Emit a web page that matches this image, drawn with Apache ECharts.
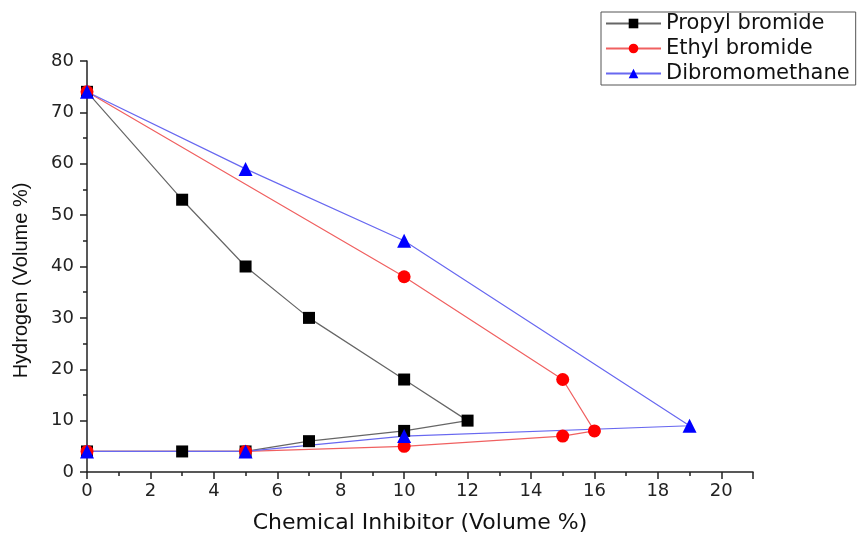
<!DOCTYPE html>
<html>
<head>
<meta charset="utf-8">
<script src="https://cdn.jsdelivr.net/npm/echarts@6/dist/echarts.min.js"></script>
<style>
  html, body { margin: 0; padding: 0; background: #fff; }
  #chart { width: 859px; height: 533px; }
</style>
</head>
<body>
<div id="chart"></div>
<script>
// inhibitor volume % (x) against hydrogen volume % (y), in the order the curves are traced
const propylX = [0, 3, 5, 7, 10, 12, 10, 7, 5, 3, 0];
const propylY = [74, 53, 40, 30, 18, 10, 8, 6, 4, 4, 4];
const ethylX = [0, 10, 15, 16, 15, 10, 5, 0];
const ethylY = [74, 38, 18, 8, 7, 5, 4, 4];
const dibromoX = [0, 5, 10, 19, 10, 5, 0];
const dibromoY = [74, 59, 45, 9, 7, 4, 4];

const pairs = (xs, ys) => xs.map((x, i) => [x, ys[i]]);

const font = 'DejaVu Sans';
const axisColor = '#222';

const chart = echarts.init(document.getElementById('chart'));

chart.setOption({
    animation: false,
    backgroundColor: '#fff',
    grid: { left: 87, right: 106, top: 61, bottom: 61, outerBoundsMode: 'none', containLabel: false },
    legend: {
        orient: 'vertical',
        left: 601,
        top: 12,
        padding: [1, 6, 1, 4],
        itemWidth: 55,
        itemHeight: 12,
        itemGap: 4,
        borderColor: '#555',
        borderWidth: 1,
        textStyle: { fontFamily: font, fontSize: 21, color: '#111', lineHeight: 20 },
        data: ['Propyl bromide', 'Ethyl bromide', 'Dibromomethane']
    },
    xAxis: {
        type: 'value',
        min: 0,
        max: 21,
        interval: 2,
        name: 'Chemical Inhibitor (Volume %)',
        nameLocation: 'middle',
        nameGap: 40,
        nameTextStyle: { fontFamily: font, fontSize: 22, color: '#111' },
        axisLine: { show: true, lineStyle: { color: axisColor, width: 1.5 } },
        axisTick: { show: true, length: 7, lineStyle: { color: axisColor, width: 1.5 } },
        minorTick: { show: true, splitNumber: 2, length: 4, lineStyle: { color: axisColor, width: 1.5 } },
        axisLabel: { fontFamily: font, fontSize: 18, color: '#222', margin: 10, showMaxLabel: false },
        splitLine: { show: false }
    },
    yAxis: {
        type: 'value',
        min: 0,
        max: 80,
        interval: 10,
        name: 'Hydrogen (Volume %)',
        nameLocation: 'middle',
        nameGap: 56,
        nameTextStyle: { fontFamily: 'Liberation Sans', fontSize: 20, color: '#111', padding: [0, 28, 0, 0] },
        axisLine: { show: true, lineStyle: { color: axisColor, width: 1.5 } },
        axisTick: { show: true, length: 7, lineStyle: { color: axisColor, width: 1.5 } },
        minorTick: { show: true, splitNumber: 2, length: 4, lineStyle: { color: axisColor, width: 1.5 } },
        axisLabel: { fontFamily: font, fontSize: 18, color: '#222', margin: 13 },
        splitLine: { show: false }
    },
    series: [
        {
            name: 'Propyl bromide',
            type: 'line',
            data: pairs(propylX, propylY),
            symbol: 'rect',
            symbolSize: 12,
            lineStyle: { color: '#666', width: 1.2 },
            itemStyle: { color: '#000' }
        },
        {
            name: 'Ethyl bromide',
            type: 'line',
            data: pairs(ethylX, ethylY),
            symbol: 'circle',
            symbolSize: 13,
            lineStyle: { color: '#f06060', width: 1.2 },
            itemStyle: { color: '#f00' }
        },
        {
            name: 'Dibromomethane',
            type: 'line',
            data: pairs(dibromoX, dibromoY),
            symbol: 'triangle',
            symbolSize: 14,
            lineStyle: { color: '#6868f0', width: 1.2 },
            itemStyle: { color: '#00f' }
        }
    ]
});
</script>
</body>
</html>
